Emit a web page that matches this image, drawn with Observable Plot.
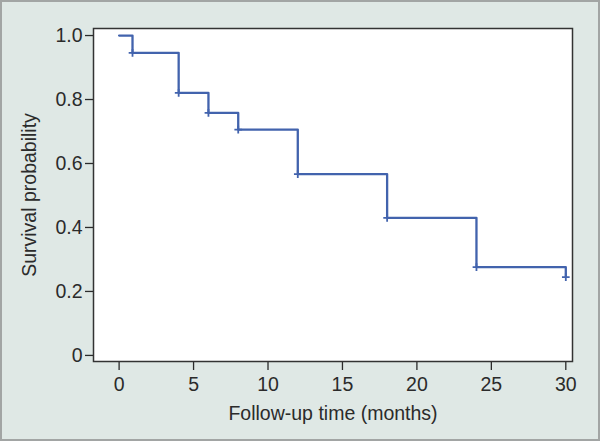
<!DOCTYPE html>
<html>
<head>
<meta charset="utf-8">
<script src="https://cdn.jsdelivr.net/npm/d3@7"></script>
<script src="https://cdn.jsdelivr.net/npm/@observablehq/plot@0.6"></script>
<style>
  html, body { margin: 0; padding: 0; background: #dfe8e5; }
  #chart { position: relative; width: 600px; height: 441px; background: #dfe8e5; box-shadow: inset 0 0 0 2px #a2a5a4; }
  #chart svg { position: absolute; left: 0; top: 0; background: transparent; }
</style>
</head>
<body>
<div id="chart"></div>
<script>
// Kaplan-Meier survival estimates
const times = [0, 0.9, 4, 6, 8, 12, 18, 24, 30];
const survival = [1.0, 0.946, 0.821, 0.758, 0.706, 0.567, 0.43, 0.276, 0.245];
const xTicks = [0, 5, 10, 15, 20, 25, 30];
const yTicks = [0, 0.2, 0.4, 0.6, 0.8, 1.0];
const xLabel = "Follow-up time (months)";
const yLabel = "Survival probability";

const data = times.map((t, i) => ({time: t, surv: survival[i]}));
const drops = data.slice(1);

const blue = "#4263ad";
const ink = "#2b2b2b";

const chart = Plot.plot({
  width: 600,
  height: 441,
  marginLeft: 93,
  marginRight: 28,
  marginTop: 28,
  marginBottom: 80,
  style: {fontFamily: "'Liberation Sans', Arial, sans-serif", fontSize: "19.5px", color: ink, background: "transparent"},
  x: {domain: [-1.72, 30.45]},
  y: {domain: [-0.019, 1.022]},
  marks: [
    Plot.frame({fill: "white", stroke: null}),
    Plot.axisX({
      ticks: xTicks, tickSize: 9, tickPadding: 7, stroke: ink, strokeWidth: 1.3,
      fontSize: 19.5, label: xLabel, labelAnchor: "center", labelArrow: "none", labelOffset: 58
    }),
    Plot.axisY({
      ticks: yTicks, tickSize: 8, tickPadding: 3, stroke: ink, strokeWidth: 1.3,
      fontSize: 19.5, tickFormat: d => d === 0 ? "0" : d3.format(".1f")(d),
      label: yLabel, labelAnchor: "center", labelArrow: "none", labelOffset: 71
    }),
    Plot.line(data, {x: "time", y: "surv", curve: "step-after", stroke: blue, strokeWidth: 2.3}),
    Plot.dot(drops, {x: "time", y: "surv", symbol: "plus", r: 2.6, stroke: blue, strokeWidth: 1.8}),
    Plot.frame({stroke: "#333", strokeWidth: 1.5})
  ]
});
document.getElementById("chart").appendChild(chart);
</script>
</body>
</html>
